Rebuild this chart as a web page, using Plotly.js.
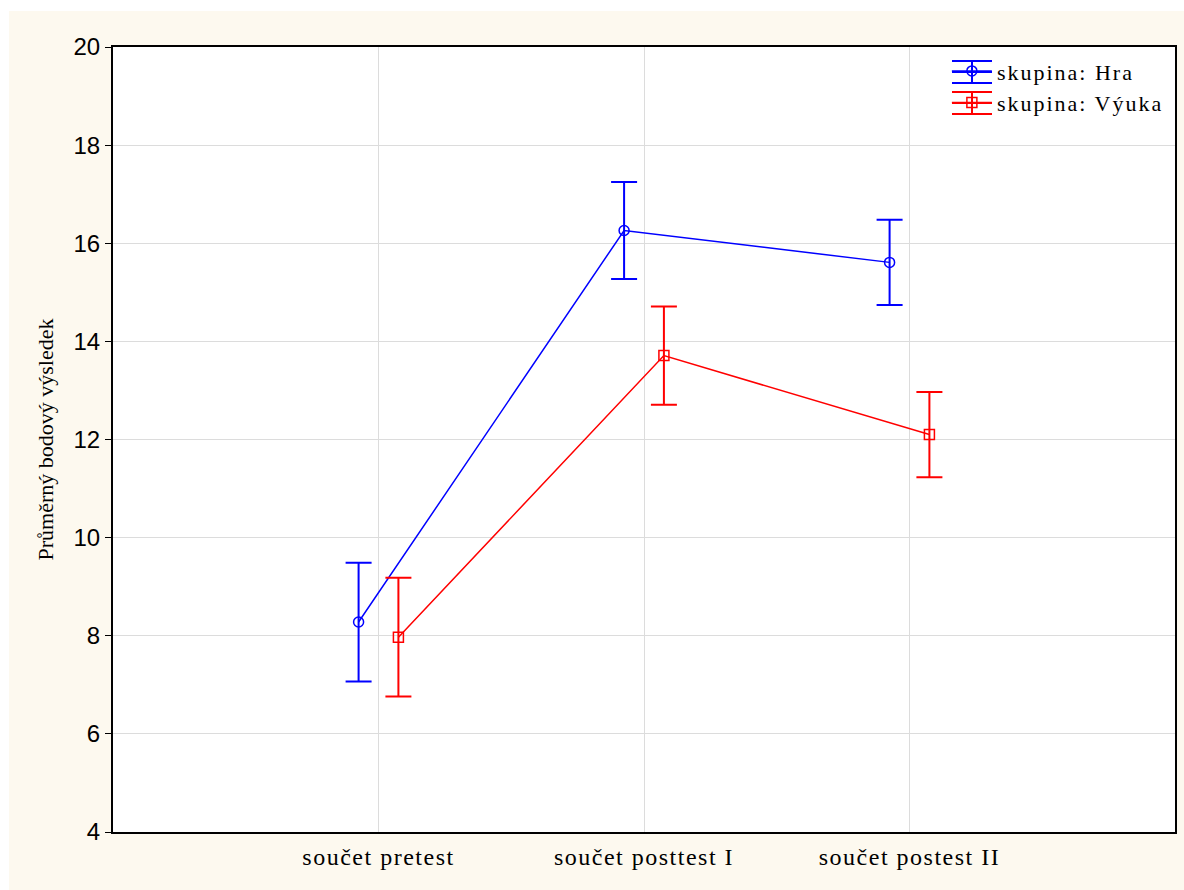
<!DOCTYPE html>
<html>
<head>
<meta charset="utf-8">
<script src="https://cdn.plot.ly/plotly-3.0.1.min.js"></script>
<style>
html,body{margin:0;padding:0;background:#fff;}
#chart{width:1184px;height:890px;}
.xtick text{letter-spacing:1.5px;}
.legendtext{letter-spacing:2px;}
</style>
</head>
<body>
<div id="chart"></div>
<script>
const categories = ["součet pretest", "součet posttest I", "součet postest II"];
const seriesNames = ["skupina: Hra", "skupina: Výuka"];
const seriesColors = ["#0000ff", "#ff0000"];
const hraMean = [8.28, 16.26, 15.61];
const hraErr = [1.21, 0.99, 0.87];
const vyukaMean = [7.97, 13.71, 12.10];
const vyukaErr = [1.21, 1.00, 0.87];
const yTicks = [4, 6, 8, 10, 12, 14, 16, 18, 20];

const idx = categories.map((c, i) => i);
const shift = 0.075;
const serif = "Liberation Serif, Times New Roman, serif";

const traces = [
  {
    x: idx.map(i => i - shift), y: hraMean, name: seriesNames[0], legendgroup: "a",
    type: "scatter", mode: "lines+markers",
    line: {color: seriesColors[0], width: 1.5},
    marker: {symbol: "circle-open", size: 10, color: seriesColors[0], line: {width: 1.5}},
    error_y: {type: "data", array: hraErr, visible: true, color: seriesColors[0], thickness: 2, width: 13}
  },
  {
    x: idx.map(i => i + shift), y: vyukaMean, name: seriesNames[1], legendgroup: "b",
    type: "scatter", mode: "lines+markers",
    line: {color: seriesColors[1], width: 1.5},
    marker: {symbol: "square-open", size: 10, color: seriesColors[1], line: {width: 1.5}},
    error_y: {type: "data", array: vyukaErr, visible: true, color: seriesColors[1], thickness: 2, width: 13}
  }
];

// legend error-bar glyph decoration (pixel geometry of the legend swatch)
const PL = 113, PW = 1062, PB = 832, PH = 785;
const px = v => (v - PL) / PW;
const py = v => (PB - v) / PH;
const legendCenters = [72, 103];
const legendCx = 972;
const decoShapes = [];
legendCenters.forEach((cy, k) => {
  const col = seriesColors[k];
  [cy - 11, cy, cy + 11].forEach(yy => {
    decoShapes.push({type: "line", xref: "paper", yref: "paper", x0: px(legendCx - 20), x1: px(legendCx + 20), y0: py(yy), y1: py(yy), line: {color: col, width: 2}, layer: "above"});
  });
  decoShapes.push({type: "line", xref: "paper", yref: "paper", x0: px(legendCx), x1: px(legendCx), y0: py(cy - 11), y1: py(cy + 11), line: {color: col, width: 2}, layer: "above"});
});

const layout = {
  width: 1184, height: 890,
  margin: {l: 113, r: 9, t: 47, b: 58},
  paper_bgcolor: "#fdf9ef",
  plot_bgcolor: "#ffffff",
  showlegend: true,
  legend: {
    x: 0.7852, y: 0.996, xanchor: "left", yanchor: "top",
    bgcolor: "rgba(0,0,0,0)", itemwidth: 40, tracegroupgap: 0,
    font: {family: serif, size: 22, color: "#000"}
  },
  xaxis: {
    range: [-1, 3],
    tickvals: idx, ticktext: categories,
    showgrid: true, gridcolor: "#dcdcdc", gridwidth: 1,
    zeroline: false,
    showline: true, linecolor: "#000", linewidth: 2, mirror: true,
    ticks: "", ticklabelstandoff: 2,
    tickfont: {family: serif, size: 24, color: "#000"}
  },
  yaxis: {
    range: [4, 20],
    tickvals: yTicks,
    showgrid: true, gridcolor: "#dcdcdc", gridwidth: 1,
    zeroline: false,
    showline: true, linecolor: "#000", linewidth: 2, mirror: true,
    ticks: "outside", ticklen: 6, tickcolor: "#000", tickwidth: 1,
    tickfont: {family: "Liberation Sans, Arial, sans-serif", size: 24, color: "#000"},
    title: {text: "Průměrný bodový výsledek", standoff: 14,
      font: {family: serif, size: 22, color: "#000"}}
  },
  shapes: [
    {type: "rect", xref: "paper", yref: "paper", x0: -0.2, x1: 1.1, y0: 1.046, y1: 1.2, fillcolor: "#ffffff", line: {width: 0}, layer: "below"},
    {type: "rect", xref: "paper", yref: "paper", x0: -0.2, x1: -0.0979, y0: -0.2, y1: 1.2, fillcolor: "#ffffff", line: {width: 0}, layer: "below"}
  ].concat(decoShapes)
};

Plotly.newPlot("chart", traces, layout, {displayModeBar: false, staticPlot: true});
</script>
</body>
</html>
